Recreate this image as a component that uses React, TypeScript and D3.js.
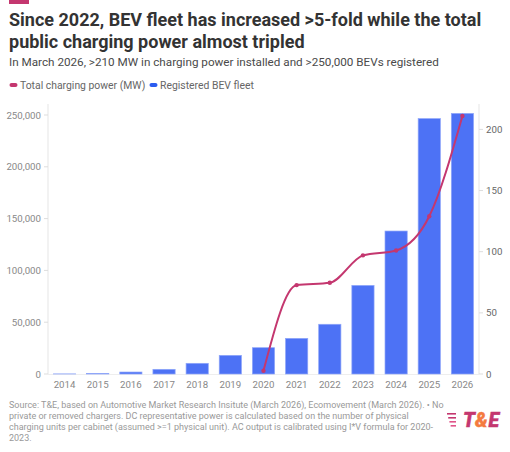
// App.tsx
// BEV fleet bars and charging power line, two y axes
import React from "react";
import * as d3 from "d3";

const years = ["2014", "2015", "2016", "2017", "2018", "2019", "2020", "2021", "2022", "2023", "2024", "2025", "2026"];
const fleet = [100, 600, 1900, 4500, 10300, 18000, 25400, 34400, 48000, 85500, 138000, 246500, 251500];
const powerYears = ["2020", "2021", "2022", "2023", "2024", "2025", "2026"];
const power = [2.7, 72.7, 74.6, 97, 101, 129, 211];
const leftTicks = [0, 50000, 100000, 150000, 200000, 250000];
const rightTicks = [0, 50, 100, 150, 200];

const titleLines = ["Since 2022, BEV fleet has increased >5-fold while the total", "public charging power almost tripled"];
const subtitle = "In March 2026, >210 MW in charging power installed and >250,000 BEVs registered";
const sourceLines = [
  "Source: T&E, based on Automotive Market Research Insitute (March 2026), Ecomovement (March 2026). • No",
  "private or removed chargers. DC representative power is calculated based on the number of physical",
  "charging units per cabinet (assumed >=1 physical unit). AC output is calibrated using I*V formula for 2020-",
  "2023.",
];

const PINK = "#c4376f";
const BLUE = "#4d72f5";
const FONT = "Roboto, sans-serif";

export default function App() {
  const x = d3.scaleBand<string>().domain(years).range([48, 479]).paddingInner(0.33).paddingOuter(0.165);
  const yLeft = d3.scaleLinear().domain([0, 250000]).range([374, 115]);
  const yRight = d3.scaleLinear().domain([0, 200]).range([374, 129.4]);
  const fmt = d3.format(",");
  const cx = (y: string) => (x(y) as number) + x.bandwidth() / 2;

  const line = d3.line<number>()
    .x((_, i) => cx(powerYears[i]))
    .y((d) => yRight(d))
    .curve(d3.curveMonotoneX);

  return (
    <svg width={510} height={452} style={{ position: "absolute", left: 0, top: 0, fontFamily: FONT, background: "#fff" }}>
      <rect x={9} y={0} width={20} height={4} fill={PINK} />
      {titleLines.map((t, i) => (
        <text key={i} x={9} y={26 + i * 22} fontSize={18} fontWeight={700} fill="#333333">{t}</text>
      ))}
      <text x={9} y={66} fontSize={11.7} fill="#4a4a4a">{subtitle}</text>

      {/* legend */}
      <rect x={9.5} y={83} width={8} height={4} rx={2} fill={PINK} />
      <text x={20} y={89} fontSize={10.4} fill="#666">Total charging power (MW)</text>
      <rect x={149.5} y={83} width={8} height={4} rx={2} fill="#2a5cf0" />
      <text x={160} y={89} fontSize={10.4} fill="#666">Registered BEV fleet</text>

      {/* axes */}
      <line x1={48} x2={48} y1={104} y2={374} stroke="#eeeeee" strokeWidth={1.5} />
      <line x1={479} x2={479} y1={104} y2={374} stroke="#eeeeee" strokeWidth={1.5} />
      <line x1={48} x2={479} y1={374.5} y2={374.5} stroke="#eeeeee" strokeWidth={1} />
      {leftTicks.map((t) => (
        <g key={t}>
          <line x1={44} x2={48} y1={yLeft(t)} y2={yLeft(t)} stroke="#dddddd" />
          <text x={41} y={yLeft(t) + 3.5} textAnchor="end" fontSize={9.7} fill="#888">{fmt(t)}</text>
        </g>
      ))}
      {rightTicks.map((t) => (
        <g key={t}>
          <line x1={479} x2={483} y1={yRight(t)} y2={yRight(t)} stroke="#dddddd" />
          <text x={486} y={yRight(t) + 3.5} fontSize={9.7} fill="#666">{t}</text>
        </g>
      ))}

      {/* bars */}
      {years.map((y, i) => (
        <g key={y}>
          <rect
            x={x(y)}
            y={yLeft(fleet[i])}
            width={x.bandwidth()}
            height={374 - yLeft(fleet[i])}
            fill={BLUE}
            stroke="#8fa6f9"
            strokeWidth={0.7}
          />
          <text x={cx(y)} y={388} textAnchor="middle" fontSize={9.7} fill="#888">{y}</text>
        </g>
      ))}

      {/* line */}
      <path d={line(power) as string} fill="none" stroke={PINK} strokeWidth={2} />
      {power.map((d, i) => (
        <circle key={i} cx={cx(powerYears[i])} cy={yRight(d)} r={2.2} fill={PINK} />
      ))}

      {/* source */}
      {sourceLines.map((t, i) => (
        <text key={i} x={9} y={407.5 + i * 11} fontSize={9} fill="#999">{t}</text>
      ))}

      {/* logo */}
      {[0, 1, 2, 3].map((i) => (
        <rect key={i} x={447 + i * 1.2} y={413 + i * 4} width={9 - i * 1.2} height={1.6} fill={i < 2 ? PINK : "#e0558a"} />
      ))}
      <text x={463} y={426.7} fontSize={19.5} fontWeight={900} fontStyle="italic" fill={PINK} stroke={PINK} strokeWidth={0.4}>T</text>
      <text x={475} y={426.7} fontSize={19.5} fontWeight={900} fontStyle="italic" fill="#f47b3f" stroke="#f47b3f" strokeWidth={0.4}>&amp;</text>
      <text x={488.5} y={426.7} fontSize={19.5} fontWeight={900} fontStyle="italic" fill={PINK} stroke={PINK} strokeWidth={0.4}>E</text>
    </svg>
  );
}
